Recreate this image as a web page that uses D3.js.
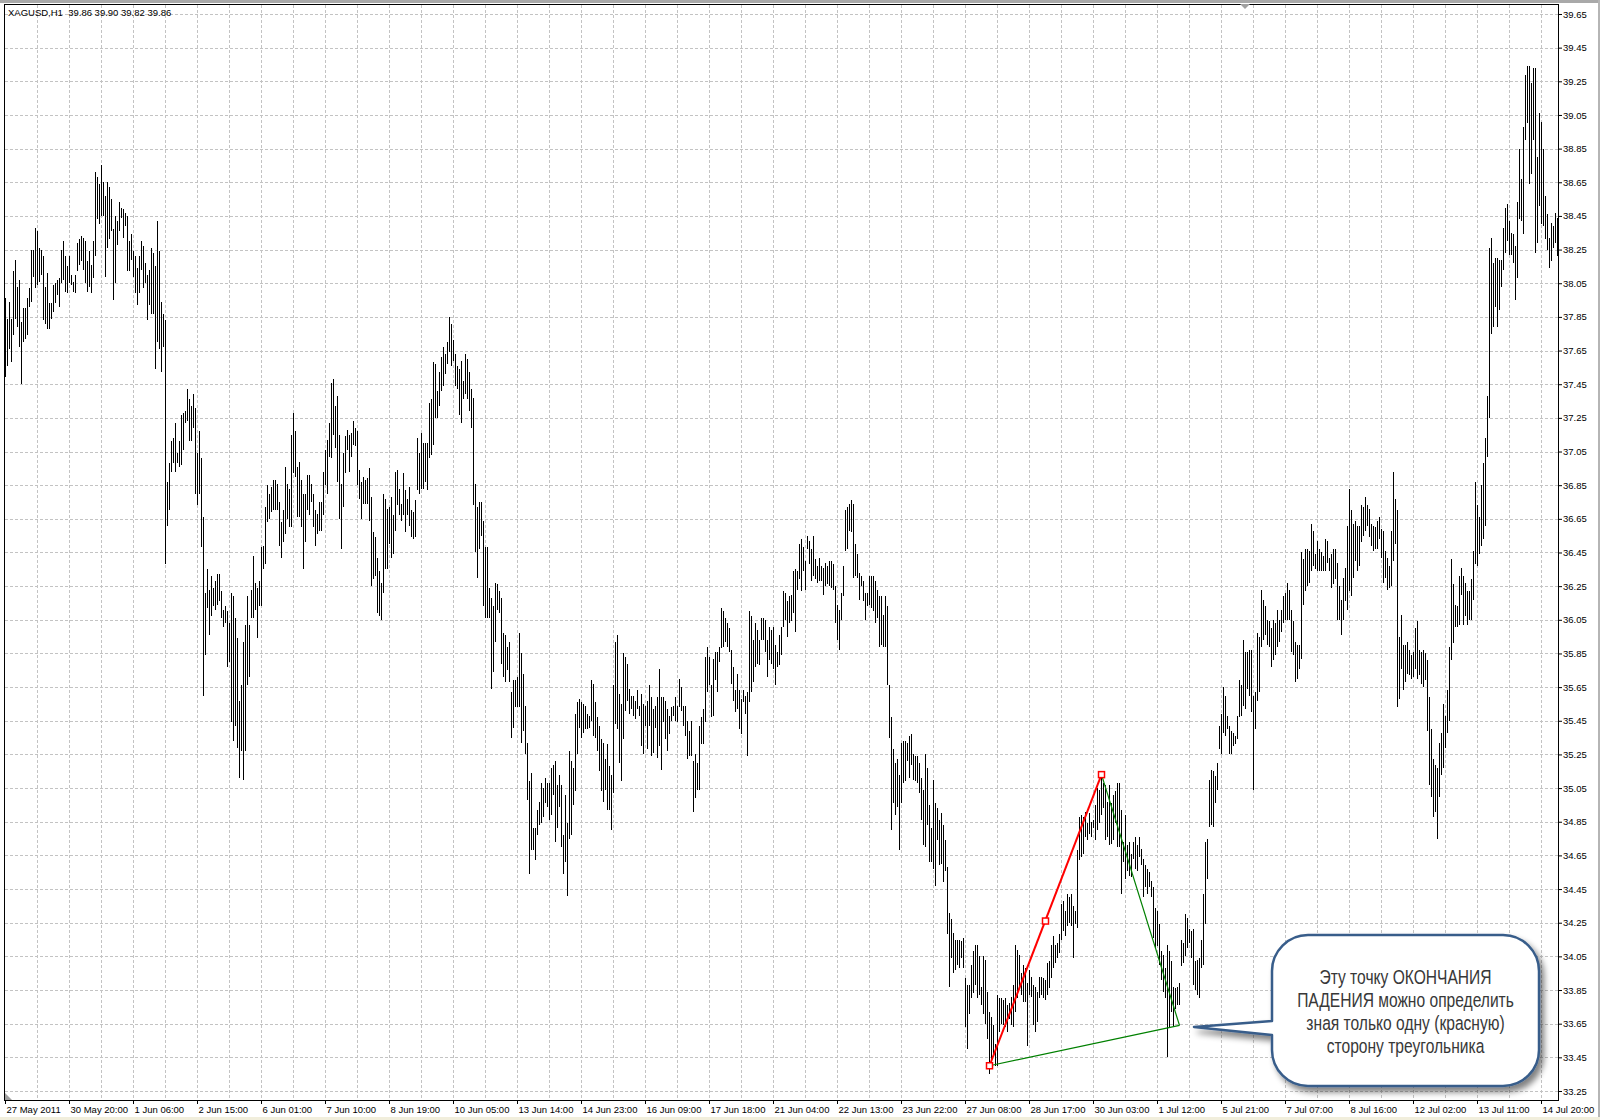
<!DOCTYPE html>
<html>
<head>
<meta charset="utf-8">
<script src="https://cdn.jsdelivr.net/npm/d3@7"></script>
<style>
  body { margin: 0; background: #fff; }
  svg text { font-family: "Liberation Sans", Arial, sans-serif; }
</style>
</head>
<body>
<svg id="chart" width="1600" height="1120"></svg>
<script>
let width = 1600;
let height = 1120;

let titleText = "XAGUSD,H1  39.86 39.90 39.82 39.86";

let timeLabels = [
  "27 May 2011", "30 May 20:00", "1 Jun 06:00", "2 Jun 15:00", "6 Jun 01:00",
  "7 Jun 10:00", "8 Jun 19:00", "10 Jun 05:00", "13 Jun 14:00", "14 Jun 23:00",
  "16 Jun 09:00", "17 Jun 18:00", "21 Jun 04:00", "22 Jun 13:00", "23 Jun 22:00",
  "27 Jun 08:00", "28 Jun 17:00", "30 Jun 03:00", "1 Jul 12:00", "5 Jul 21:00",
  "7 Jul 07:00", "8 Jul 16:00", "12 Jul 02:00", "13 Jul 11:00", "14 Jul 20:00"
];

let priceTicks = [
  33.25, 33.45, 33.65, 33.85, 34.05, 34.25, 34.45, 34.65, 34.85, 35.05, 35.25,
  35.45, 35.65, 35.85, 36.05, 36.25, 36.45, 36.65, 36.85, 37.05, 37.25, 37.45,
  37.65, 37.85, 38.05, 38.25, 38.45, 38.65, 38.85, 39.05, 39.25, 39.45, 39.65
];

// hourly bars, high / low
let highs = [
  37.96,37.84,37.94,37.84,38.12,38.19,38.03,38.07,37.82,37.90,
  37.90,37.96,38.02,38.25,38.25,38.38,38.36,38.26,38.25,38.21,
  38.03,38.11,37.93,37.93,38.04,38.05,38.07,38.08,38.25,38.30,
  38.21,38.15,38.21,38.10,38.06,38.10,38.29,38.31,38.33,38.32,
  38.30,38.18,38.24,38.16,38.30,38.71,38.68,38.64,38.75,38.65,
  38.57,38.65,38.62,38.55,38.37,38.45,38.42,38.53,38.50,38.49,
  38.47,38.45,38.30,38.34,38.24,38.21,38.14,38.21,38.30,38.27,
  38.17,38.10,38.13,38.26,38.23,38.15,38.42,38.24,37.94,37.87,
  37.83,36.87,36.98,37.11,37.13,37.22,37.04,37.11,37.27,37.28,
  37.29,37.42,37.36,37.32,37.39,37.31,37.04,37.17,37.01,36.66,
  36.21,36.35,36.23,36.31,36.24,36.28,36.32,36.32,36.22,36.11,
  36.13,36.10,36.03,36.21,36.19,36.06,35.94,35.57,35.66,35.92,
  36.02,36.19,36.02,36.23,36.43,36.27,36.24,36.28,36.48,36.49,
  36.72,36.85,36.80,36.84,36.88,36.88,36.86,36.75,36.63,36.70,
  36.96,36.86,36.83,37.15,37.28,37.17,36.96,36.99,36.88,36.80,
  36.80,36.91,36.91,36.86,36.80,36.70,36.68,36.75,36.75,36.93,
  37.06,37.12,37.22,37.46,37.48,37.32,37.38,37.15,36.86,37.04,
  37.14,37.18,37.15,37.16,37.23,37.19,37.17,36.94,36.87,36.90,
  36.88,36.89,36.95,36.78,36.57,36.54,36.42,36.34,36.27,36.80,
  36.77,36.71,36.72,36.78,36.67,36.93,36.94,36.83,36.74,36.92,
  36.82,36.77,36.84,36.70,36.69,36.76,37.13,37.04,37.16,37.10,
  37.10,37.10,37.34,37.36,37.58,37.57,37.41,37.52,37.61,37.67,
  37.63,37.70,37.85,37.81,37.71,37.63,37.56,37.54,37.59,37.47,
  37.63,37.60,37.52,37.42,37.37,36.86,36.72,36.75,36.75,36.64,
  36.48,36.48,36.24,36.18,36.13,36.27,36.26,36.22,36.18,35.97,
  35.96,35.89,35.92,35.62,35.69,35.69,35.71,35.97,
  35.85,35.73,35.54,35.32,35.09,35.14,34.81,34.81,34.92,34.97,
  35.08,35.05,35.11,35.08,35.08,35.17,35.19,35.21,35.07,35.13,
  35.07,34.77,35.01,34.84,35.27,35.21,35.17,35.49,35.56,35.58,
  35.56,35.55,35.54,35.49,35.48,35.69,35.67,35.56,35.47,35.42,
  35.34,35.32,35.22,35.31,35.18,35.13,35.66,35.92,35.96,35.61,
  35.55,35.85,35.83,35.79,35.64,35.60,35.60,35.57,35.63,35.54,
  35.61,35.55,35.54,35.57,35.66,35.59,35.52,35.54,35.59,35.76,
  35.59,35.59,35.57,35.52,35.48,35.53,35.54,35.59,35.54,35.70,
  35.65,35.54,35.54,35.45,35.39,35.45,35.21,35.25,35.20,35.42,
  35.47,35.52,35.83,35.89,35.83,35.66,35.82,35.86,35.86,35.89,
  36.12,36.10,36.06,36.03,36.00,35.87,35.77,35.63,35.73,35.63,
  35.58,35.63,35.60,35.62,36.10,36.07,35.93,36.03,35.99,35.93,
  36.06,36.06,36.05,35.93,36.01,35.99,36.01,35.90,35.86,35.96,
  36.01,36.22,36.21,36.16,36.19,36.20,36.34,36.35,36.34,36.50,
  36.53,36.48,36.40,36.55,36.52,36.47,36.55,36.41,36.37,36.42,
  36.37,36.36,36.39,36.37,36.40,36.40,36.38,36.25,36.14,36.11,
  36.21,36.37,36.70,36.72,36.74,36.76,36.74,36.50,36.44,36.33,
  36.31,36.28,36.21,36.21,36.31,36.31,36.31,36.28,36.23,36.19,
  36.19,36.08,36.19,36.13,35.66,35.47,35.28,35.20,35.22,35.13,
  35.32,35.33,35.33,35.32,35.36,35.37,35.25,35.24,35.24,35.20,
  35.11,35.04,35.25,35.17,34.95,34.81,35.10,34.96,34.93,34.86,
  34.90,34.83,34.74,34.58,34.31,34.27,34.19,34.15,34.15,34.15,
  34.14,34.16,33.92,33.88,33.88,34.00,34.08,34.12,34.12,34.05,
  33.87,34.05,34.03,33.84,33.72,33.69,33.64,33.53,33.82,33.80,
  33.80,33.79,33.80,33.76,33.77,33.81,33.88,34.12,34.09,34.06,
  33.95,34.00,33.98,33.89,33.97,33.93,33.88,33.87,33.84,33.93,
  33.93,33.92,33.91,34.01,34.02,34.12,34.17,34.12,34.13,34.18,
  34.36,34.38,34.32,34.42,34.40,34.42,34.35,34.32,34.68,34.88,
  34.89,34.88,34.91,34.84,34.90,34.85,34.86,34.95,35.05,35.04,
  35.12,35.08,35.07,34.97,35.07,34.96,35.01,35.03,35.08,35.08,
  34.92,34.73,34.89,34.71,34.73,34.66,34.73,34.76,34.71,34.76,
  34.69,34.63,34.59,34.57,34.55,34.50,34.46,34.34,34.32,34.24,
  34.08,34.06,33.98,34.12,34.08,34.02,33.87,33.86,33.87,33.89,
  34.15,34.13,34.30,34.28,34.21,34.20,34.21,34.02,34.03,34.04,
  34.15,34.42,34.73,34.75,35.10,35.16,35.15,35.12,35.20,35.42,
  35.49,35.65,35.60,35.48,35.42,35.39,35.38,35.36,35.48,35.69,
  35.66,35.93,35.86,35.86,35.87,35.87,35.60,35.62,35.97,35.95,
  36.23,36.17,36.13,36.05,36.04,36.00,36.05,36.03,36.11,36.05,
  36.11,36.19,36.21,36.27,36.23,36.11,36.04,35.92,35.90,35.90,
  36.45,36.41,36.47,36.47,36.46,36.62,36.58,36.44,36.52,36.47,
  36.45,36.43,36.53,36.52,36.42,36.44,36.47,36.47,36.39,36.25,
  36.17,36.30,36.36,36.61,36.83,36.70,36.62,36.64,36.61,36.61,
  36.73,36.72,36.78,36.73,36.71,36.62,36.61,36.60,36.64,36.66,
  36.59,36.58,36.46,36.42,36.37,36.58,36.93,36.77,36.70,35.95,
  36.08,35.90,35.90,35.92,35.87,35.84,35.86,36.00,36.04,35.87,
  35.86,35.87,35.85,35.81,35.59,35.40,35.22,35.19,35.17,35.32,
  35.38,35.55,35.48,35.63,35.89,36.41,36.26,36.14,36.13,36.31,
  36.36,36.31,36.27,36.22,36.22,36.29,36.46,36.87,36.73,36.66,
  36.85,36.98,37.13,37.38,38.26,38.32,38.17,38.20,38.20,38.19,
  38.19,38.38,38.50,38.52,38.42,38.35,38.34,38.27,38.53,38.85,
  38.67,38.98,39.29,39.34,39.34,39.24,39.33,39.33,38.80,39.06,
  39.01,38.85,38.57,38.46,38.32,38.41,38.39,38.47,38.44
];

let lows = [
  37.49,37.56,37.66,37.58,37.74,37.84,37.79,37.67,37.45,37.70,
  37.72,37.74,37.91,37.94,38.09,38.02,38.04,38.06,38.10,37.83,
  37.81,37.78,37.78,37.84,37.88,37.93,37.98,37.91,38.05,38.07,
  38.00,37.99,38.05,38.04,38.00,37.99,38.12,38.16,38.18,38.13,
  38.05,38.00,38.03,37.99,38.08,38.21,38.43,38.40,38.45,38.45,
  38.09,38.26,38.31,38.36,37.95,38.05,38.28,38.36,38.44,38.32,
  38.39,38.12,38.12,38.19,38.09,37.99,37.92,37.99,38.13,38.02,
  38.05,37.83,37.92,37.87,37.87,37.54,37.70,37.66,37.52,37.67,
  36.38,36.61,36.70,36.93,36.98,36.93,36.98,36.96,36.97,37.06,
  37.22,37.23,37.11,37.11,37.19,36.80,36.73,36.80,36.48,35.60,
  35.84,36.12,35.96,36.07,36.13,36.11,36.14,36.16,36.06,36.01,
  36.03,35.77,35.80,35.44,35.33,35.42,35.29,35.11,35.27,35.10,
  35.27,35.66,35.71,36.06,36.06,36.11,35.94,36.13,36.13,36.35,
  36.38,36.63,36.65,36.69,36.70,36.70,36.70,36.49,36.42,36.51,
  36.56,36.65,36.60,36.60,36.92,36.90,36.66,36.66,36.60,36.35,
  36.51,36.70,36.67,36.75,36.60,36.49,36.56,36.58,36.58,36.67,
  36.85,36.80,37.02,37.01,37.15,37.07,36.87,36.65,36.47,36.72,
  36.92,37.06,36.93,37.02,37.09,37.08,36.85,36.77,36.65,36.74,
  36.74,36.74,36.64,36.25,36.29,36.31,36.09,36.07,36.05,36.21,
  36.35,36.35,36.50,36.42,36.44,36.58,36.73,36.67,36.64,36.67,
  36.57,36.67,36.61,36.54,36.53,36.54,36.82,36.80,36.83,36.83,
  36.87,36.82,37.01,37.03,37.09,37.25,37.25,37.32,37.41,37.44,
  37.51,37.57,37.64,37.56,37.59,37.44,37.42,37.27,37.22,37.36,
  37.39,37.36,37.29,37.19,36.73,36.45,36.30,36.47,36.55,36.13,
  36.06,36.06,36.06,35.64,35.74,35.92,36.11,36.09,35.79,35.71,
  35.68,35.75,35.68,35.35,35.41,35.53,35.53,35.53,
  35.32,35.39,35.25,34.98,34.54,34.68,34.68,34.62,34.77,34.83,
  34.84,34.88,34.96,34.94,34.86,34.89,35.01,34.73,34.81,34.94,
  34.70,34.54,34.61,34.41,34.75,34.77,34.95,35.03,35.25,35.41,
  35.35,35.38,35.40,35.40,35.41,35.45,35.36,35.35,35.27,35.15,
  35.03,34.97,35.04,34.92,34.92,34.80,35.02,35.43,35.40,35.20,
  35.09,35.34,35.51,35.57,35.49,35.52,35.48,35.46,35.52,35.48,
  35.30,35.25,35.42,35.28,35.42,35.24,35.26,35.41,35.23,35.30,
  35.16,35.44,35.34,35.27,35.37,35.45,35.48,35.45,35.44,35.53,
  35.51,35.42,35.36,35.22,35.24,35.24,34.91,34.99,35.04,35.04,
  35.31,35.31,35.44,35.62,35.66,35.47,35.48,35.69,35.62,35.80,
  35.88,35.89,35.92,35.89,35.86,35.67,35.57,35.50,35.52,35.40,
  35.37,35.56,35.49,35.24,35.56,35.62,35.68,35.77,35.79,35.78,
  35.93,35.93,35.86,35.71,35.81,35.79,35.76,35.66,35.77,35.78,
  35.84,36.01,36.05,35.95,36.03,36.04,36.09,35.98,36.23,36.29,
  36.22,36.34,36.23,36.47,36.38,36.28,36.31,36.29,36.27,36.28,
  36.28,36.20,36.25,36.26,36.25,36.24,36.23,36.03,35.93,35.87,
  36.05,36.19,36.46,36.47,36.58,36.57,36.30,36.31,36.30,36.17,
  36.25,36.16,36.05,36.13,36.14,36.12,36.10,36.03,36.06,35.89,
  35.90,35.89,35.89,35.66,35.35,34.80,34.96,34.89,34.94,34.68,
  34.96,35.08,35.09,35.21,35.11,35.19,35.10,35.09,35.08,35.02,
  34.86,34.71,34.70,34.83,34.61,34.61,34.57,34.47,34.74,34.59,
  34.60,34.49,34.56,34.18,33.87,34.04,33.95,33.97,34.00,33.98,
  34.04,33.98,33.63,33.50,33.71,33.80,33.83,33.88,33.80,33.82,
  33.76,33.71,33.65,33.56,33.35,33.40,33.46,33.40,33.40,33.60,
  33.65,33.64,33.63,33.60,33.68,33.64,33.63,33.72,33.80,33.87,
  33.82,33.78,33.78,33.52,33.82,33.81,33.64,33.60,33.66,33.80,
  33.82,33.80,33.79,33.82,33.86,33.92,33.98,34.01,34.04,34.07,
  34.15,34.20,34.17,34.23,34.25,34.23,34.04,34.24,34.22,34.62,
  34.64,34.66,34.76,34.74,34.78,34.76,34.81,34.74,34.80,34.84,
  34.89,34.93,34.74,34.76,34.71,34.72,34.74,34.84,34.70,34.70,
  34.42,34.61,34.51,34.56,34.53,34.52,34.63,34.57,34.56,34.64,
  34.59,34.40,34.46,34.42,34.46,34.40,34.16,34.10,34.11,34.00,
  33.91,33.84,33.80,33.45,33.63,33.72,33.63,33.74,33.76,33.76,
  33.99,34.01,34.05,34.10,34.13,34.04,33.88,33.85,33.82,33.80,
  33.98,34.00,34.24,34.51,34.82,34.83,34.82,34.96,35.04,35.28,
  35.25,35.38,35.36,35.40,35.25,35.25,35.30,35.31,35.34,35.47,
  35.48,35.54,35.52,35.64,35.60,35.50,35.04,35.40,35.57,35.62,
  35.89,35.93,35.96,35.90,35.89,35.77,35.81,35.84,35.89,35.92,
  35.98,36.03,36.05,36.05,36.05,35.86,35.84,35.68,35.70,35.76,
  35.82,36.14,36.22,36.25,36.27,36.34,36.37,36.35,36.34,36.34,
  36.34,36.34,36.34,36.39,36.34,36.24,36.26,36.29,36.05,36.05,
  35.96,36.05,36.16,36.11,36.22,36.19,36.30,36.40,36.34,36.37,
  36.51,36.55,36.58,36.61,36.54,36.49,36.46,36.47,36.47,36.53,
  36.42,36.27,36.30,36.23,36.24,36.25,36.40,36.50,35.53,35.58,
  35.76,35.63,35.68,35.73,35.72,35.70,35.71,35.76,35.70,35.72,
  35.67,35.65,35.69,35.39,35.07,35.00,34.88,34.91,34.75,35.00,
  35.13,35.17,35.29,35.38,35.45,35.81,35.91,36.01,36.01,36.02,
  36.20,36.02,36.07,36.02,36.05,36.05,36.17,36.38,36.37,36.44,
  36.49,36.53,36.61,37.02,37.25,37.75,37.79,37.91,37.79,37.89,
  38.03,38.13,38.23,38.30,38.22,38.22,38.17,37.95,38.08,38.43,
  38.42,38.34,38.90,39.00,38.64,38.70,38.90,38.23,38.29,38.51,
  38.40,38.39,38.31,38.25,38.14,38.18,38.26,38.29,38.21
];

// triangle drawn on the chart: bar index and price of each corner
let triangleBars = [492, 520, 548, 587];
let trianglePrices = [33.40, 34.26, 35.13, 33.64];

let noteLines = [
  "Эту точку ОКОНЧАНИЯ",
  "ПАДЕНИЯ можно определить",
  "зная только одну (красную)",
  "сторону треугольника"
];

let svg = d3.select("#chart");
let plot = { left: 4, top: 4, right: 1558, bottom: 1100 };

// window chrome
svg.append("rect").attr("x", 0).attr("y", 0).attr("width", width).attr("height", 3).attr("fill", "#a9a9a9");
svg.append("rect").attr("x", 1598).attr("y", 0).attr("width", 2).attr("height", height).attr("fill", "#b5b5b5");
svg.append("rect").attr("x", 0).attr("y", 1117).attr("width", width).attr("height", 3).attr("fill", "#f1eedc");

let x = d3.scaleLinear()
    .domain([0, 776])
    .range([5, 1557]);

let y = d3.scaleLinear()
    .domain([33.1965, 39.7094])
    .range([plot.bottom, plot.top]);

let gridColor = "#c3c3c3";

// horizontal grid
svg.append("g")
  .selectAll("line")
  .data(priceTicks)
  .join("line")
    .attr("x1", plot.left + 1)
    .attr("x2", plot.right)
    .attr("y1", d => Math.round(y(d)) + 0.5)
    .attr("y2", d => Math.round(y(d)) + 0.5)
    .attr("stroke", gridColor)
    .attr("stroke-dasharray", "3,2");

// vertical grid, every 16 bars
svg.append("g")
  .selectAll("line")
  .data(d3.range(16, highs.length, 16))
  .join("line")
    .attr("x1", d => x(d) + 0.5)
    .attr("x2", d => x(d) + 0.5)
    .attr("y1", plot.top + 1)
    .attr("y2", plot.bottom)
    .attr("stroke", gridColor)
    .attr("stroke-dasharray", "3,2");

// bars
let bars = highs.map((h, i) => ({ i: i, high: h, low: lows[i] }));

svg.append("g")
  .attr("shape-rendering", "crispEdges")
  .selectAll("rect")
  .data(bars)
  .join("rect")
    .attr("x", d => x(d.i))
    .attr("width", 1)
    .attr("y", d => Math.round(y(d.high)))
    .attr("height", d => Math.max(1, Math.round(y(d.low)) - Math.round(y(d.high))))
    .attr("fill", "#000");

// triangle
let tri = triangleBars.map((b, k) => [x(b) + 0.5, y(trianglePrices[k])]);

svg.append("line")
  .attr("x1", tri[0][0]).attr("y1", tri[0][1])
  .attr("x2", tri[3][0]).attr("y2", tri[3][1])
  .attr("stroke", "#008000").attr("stroke-width", 1.2);

svg.append("line")
  .attr("x1", tri[2][0]).attr("y1", tri[2][1])
  .attr("x2", tri[3][0]).attr("y2", tri[3][1])
  .attr("stroke", "#008000").attr("stroke-width", 1.2);

svg.append("line")
  .attr("x1", tri[0][0]).attr("y1", tri[0][1])
  .attr("x2", tri[2][0]).attr("y2", tri[2][1])
  .attr("stroke", "#ff0000").attr("stroke-width", 2);

svg.append("g")
  .selectAll("rect")
  .data(tri.slice(0, 3))
  .join("rect")
    .attr("x", d => d[0] - 3)
    .attr("y", d => d[1] - 3)
    .attr("width", 6)
    .attr("height", 6)
    .attr("fill", "#fff")
    .attr("stroke", "#ff0000")
    .attr("stroke-width", 1.5);

// frame
svg.append("rect")
  .attr("x", plot.left + 0.5)
  .attr("y", plot.top + 0.5)
  .attr("width", plot.right - plot.left)
  .attr("height", plot.bottom - plot.top)
  .attr("fill", "none")
  .attr("stroke", "#000");

svg.append("path").attr("d", "M5,1093L5,1100L12,1100Z").attr("fill", "#a0a0a0");
svg.append("path").attr("d", "M1240,4L1250,4L1245,9Z").attr("fill", "#a0a0a0");

// axes
let xAxis = svg.append("g")
  .attr("transform", `translate(0,${plot.bottom})`)
  .call(d3.axisBottom(x)
    .tickValues(timeLabels.map((d, k) => k * 32))
    .tickFormat((d, k) => timeLabels[k])
    .tickSize(4)
    .tickPadding(2))
  .call(g => g.select(".domain").remove());

xAxis.selectAll("line").attr("stroke", "#000");
xAxis.selectAll("text")
  .attr("text-anchor", "start")
  .attr("dx", 1)
  .attr("fill", "#000")
  .style("font-family", "'Liberation Sans', Arial, sans-serif")
  .style("font-size", "9.5px");

let yAxis = svg.append("g")
  .attr("transform", `translate(${plot.right},0)`)
  .call(d3.axisRight(y)
    .tickValues(priceTicks)
    .tickFormat(d3.format(".2f"))
    .tickSize(4)
    .tickPadding(1))
  .call(g => g.select(".domain").remove());

yAxis.selectAll("line").attr("stroke", "#000");
yAxis.selectAll("text")
  .attr("fill", "#000")
  .style("font-family", "'Liberation Sans', Arial, sans-serif")
  .style("font-size", "9.5px");

svg.append("text")
  .attr("x", 8)
  .attr("y", 15.5)
  .attr("fill", "#000")
  .style("font-size", "9.5px")
  .style("white-space", "pre")
  .attr("xml:space", "preserve")
  .text(titleText);

// callout
let defs = svg.append("defs");
let shadow = defs.append("filter").attr("id", "shadow")
  .attr("x", "-10%").attr("y", "-10%").attr("width", "130%").attr("height", "140%");
shadow.append("feGaussianBlur").attr("in", "SourceAlpha").attr("stdDeviation", 3);
shadow.append("feOffset").attr("dx", 4).attr("dy", 5).attr("result", "off");
shadow.append("feComponentTransfer").append("feFuncA").attr("type", "linear").attr("slope", 0.5);
let merge = shadow.append("feMerge");
merge.append("feMergeNode");
merge.append("feMergeNode").attr("in", "SourceGraphic");

let box = { x0: 1272, y0: 935, x1: 1539, y1: 1086, r: 36 };
let tip = [1194, 1027];

let callout = d3.path();
callout.moveTo(box.x0 + box.r, box.y0);
callout.lineTo(box.x1 - box.r, box.y0);
callout.arcTo(box.x1, box.y0, box.x1, box.y0 + box.r, box.r);
callout.lineTo(box.x1, box.y1 - box.r);
callout.arcTo(box.x1, box.y1, box.x1 - box.r, box.y1, box.r);
callout.lineTo(box.x0 + box.r, box.y1);
callout.arcTo(box.x0, box.y1, box.x0, box.y1 - box.r, box.r);
callout.lineTo(box.x0, 1035);
callout.lineTo(tip[0], tip[1]);
callout.lineTo(box.x0, 1021);
callout.lineTo(box.x0, box.y0 + box.r);
callout.arcTo(box.x0, box.y0, box.x0 + box.r, box.y0, box.r);
callout.closePath();

svg.append("path")
  .attr("d", callout.toString())
  .attr("fill", "#fff")
  .attr("stroke", "#385d8a")
  .attr("stroke-width", 2.5)
  .attr("stroke-linejoin", "round")
  .attr("filter", "url(#shadow)");

let note = svg.append("g")
  .attr("transform", `translate(${(box.x0 + box.x1) / 2},0) scale(0.8,1)`);

note.selectAll("text")
  .data(noteLines)
  .join("text")
    .attr("x", 0)
    .attr("y", (d, k) => 984 + k * 23)
    .attr("text-anchor", "middle")
    .attr("fill", "#383838")
    .style("font-size", "19.5px")
    .text(d => d);
</script>
</body>
</html>
